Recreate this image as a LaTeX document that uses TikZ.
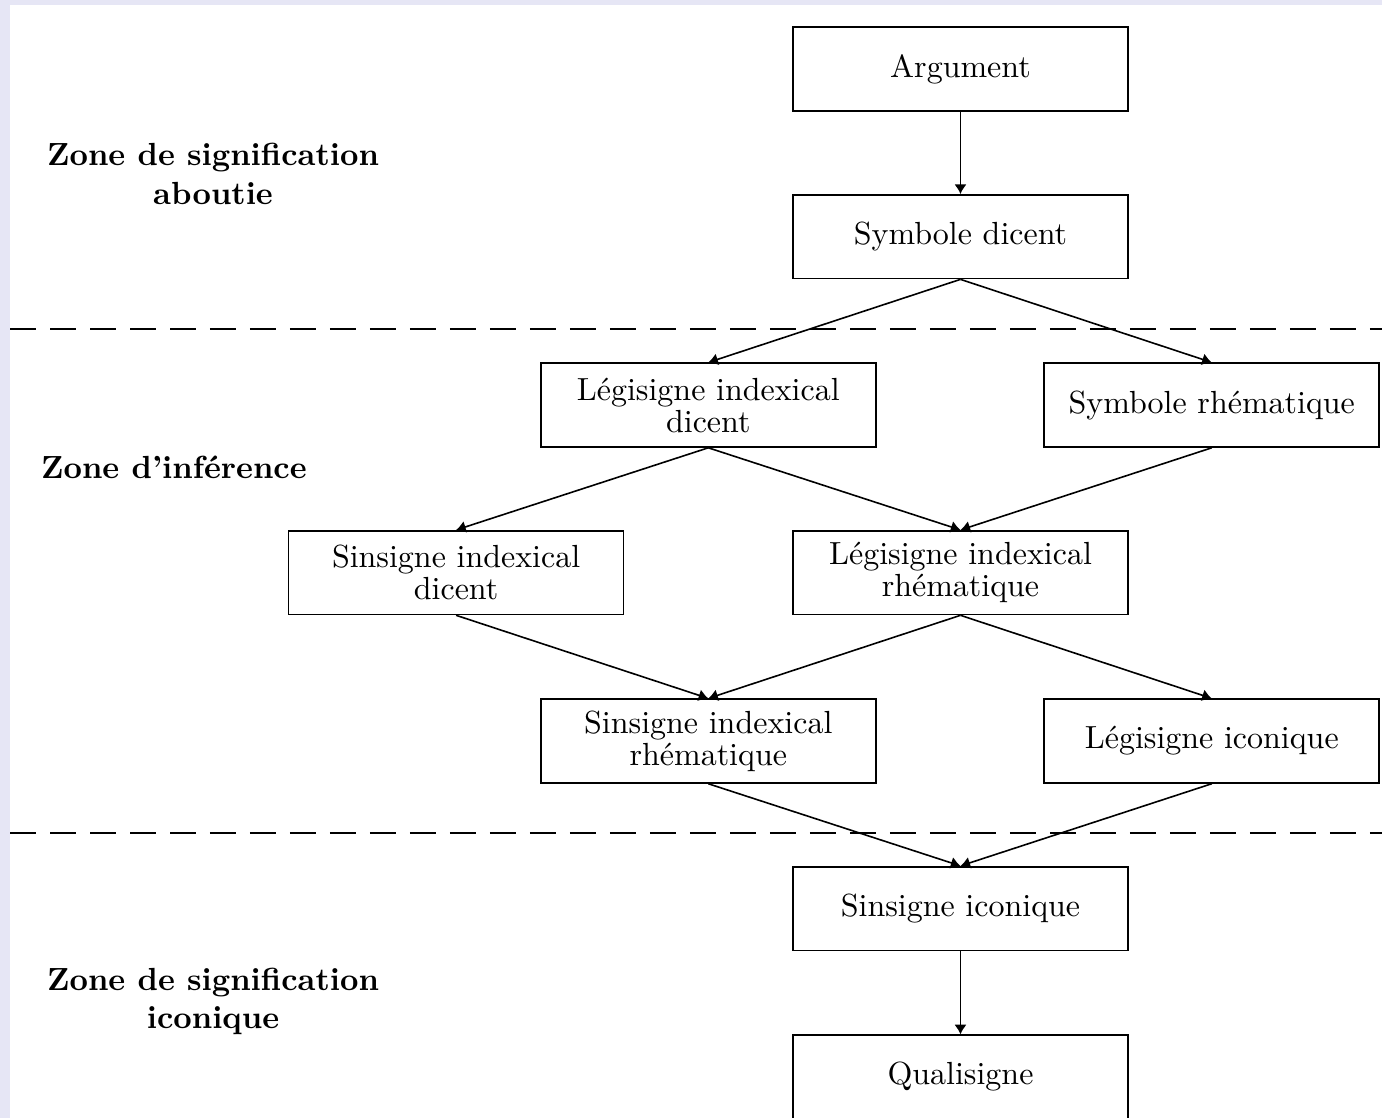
\documentclass[tikz,border=0pt]{standalone}
\usepackage{fontspec}
\usetikzlibrary{arrows.meta}
\definecolor{fond}{RGB}{230,230,245}
\begin{document}
\begin{tikzpicture}[>={Latex[length=3pt,width=3.8pt]},line width=0.5pt,
	signe/.style={draw,rectangle,minimum width=3.68cm,minimum height=0.92cm,align=center,font=\fontsize{10}{10}\selectfont},
	zone/.style={align=center,font=\bfseries}]

\fill[color=fond] (0,0) rectangle (15.18,-12.28);
\fill[color=white] (0.11,-0.055) rectangle (15.18,-12.28);
\useasboundingbox (0,0) rectangle (15.18,-12.28);

\node[signe] (arg) at (10.55,-0.76) {Argument};
\node[signe] (symd) at (10.55,-2.60) {Symbole dicent};
\node[signe] (legid) at (7.78,-4.45) {Légisigne indexical\\dicent};
\node[signe] (symr) at (13.31,-4.45) {Symbole rhématique};
\node[signe] (sinid) at (5.01,-6.29) {Sinsigne indexical\\dicent};
\node[signe] (legir) at (10.55,-6.29) {Légisigne indexical\\rhématique};
\node[signe] (sinir) at (7.78,-8.14) {Sinsigne indexical\\rhématique};
\node[signe] (legic) at (13.31,-8.14) {Légisigne iconique};
\node[signe] (sinic) at (10.55,-9.98) {Sinsigne iconique};
\node[signe] (quali) at (10.55,-11.83) {Qualisigne};

\foreach \a/\b in {arg/symd,symd/legid,symd/symr,legid/sinid,legid/legir,symr/legir,
	sinid/sinir,legir/sinir,legir/legic,sinir/sinic,legic/sinic,sinic/quali}{
	\draw[->] (\a.south) -- (\b.north);
}

\foreach \y in {-3.613,-9.149}{
	\draw[dash pattern=on 8pt off 4.5pt] (0.11,\y) -- (15.18,\y);
}

\node[zone] (aboutie) at (2.34,-1.91) {Zone de signification\\aboutie};
\node[zone] (inference) at (1.91,-5.13) {Zone d'inférence};
\node[zone] (iconique) at (2.34,-11.0) {Zone de signification\\iconique};

\end{tikzpicture}
\end{document}
